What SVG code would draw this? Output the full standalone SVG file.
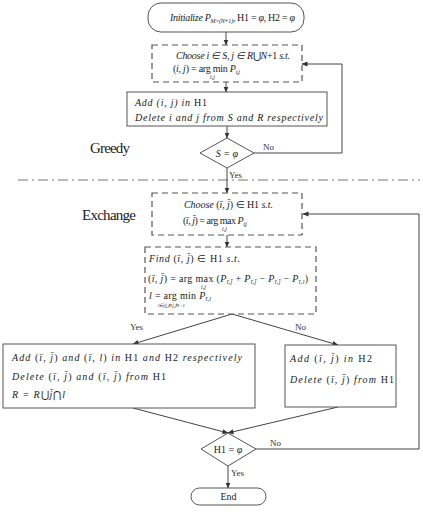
<svg xmlns="http://www.w3.org/2000/svg" width="423" height="514" viewBox="0 0 423 514">
<style>
.t{font-family:"Liberation Serif","Times New Roman",serif;font-size:10px;fill:#222}
.i{font-style:italic}
.s{font-size:6px}
.xs{font-size:5px}
.lbl{font-family:"Liberation Serif",serif;font-size:9px;fill:#333}
.big{font-family:"Liberation Serif",serif;font-size:15px;fill:#222}
.box{fill:#fff;stroke:#555;stroke-width:1}
.dash{fill:#fff;stroke:#555;stroke-width:1.2;stroke-dasharray:6 4}
.ln{fill:none;stroke:#444;stroke-width:1;marker-end:url(#ah)}
</style>
<defs>
<marker id="ah" markerWidth="6" markerHeight="6" refX="5.5" refY="3" orient="auto" markerUnits="userSpaceOnUse">
<path d="M0,0.5 L6,3 L0,5.5 Z" fill="#333"/>
</marker>
</defs>
<rect width="423" height="514" fill="#fff"/>

<line x1="18" y1="180" x2="420" y2="180" stroke="#777" stroke-width="1" stroke-dasharray="10 4 2 4"/>
<text class="big" x="90" y="153" textLength="40">Greedy</text>
<text class="big" x="82" y="220" textLength="54">Exchange</text>

<g id="connectors">
<path class="ln" d="M226,32 V45"/>
<path class="ln" d="M226,82 V92"/>
<path class="ln" d="M227,126 V138"/>
<path class="ln" d="M254,153 H342 V64 H302"/>
<path class="ln" d="M227,168 V193"/>
<path class="ln" d="M256,449 H419 V214 H303"/>
<path class="ln" d="M227,235 V247"/>
<path class="ln" d="M232,314 L133,344"/>
<path class="ln" d="M232,314 L338,345"/>
<path class="ln" d="M133,408 L228,433"/>
<path class="ln" d="M338,407 L228,433"/>
<path class="ln" d="M228,466 V488"/>
<text class="lbl" x="263" y="150">No</text>
<text class="lbl" x="229" y="178">Yes</text>
<text class="lbl" x="130" y="330">Yes</text>
<text class="lbl" x="295" y="330">No</text>
<text class="lbl" x="270" y="446">No</text>
<text class="lbl" x="231" y="476">Yes</text>
</g>

<g id="start">
<rect class="box" x="148" y="3" width="156" height="29" rx="13"/>
<text class="t" x="170" y="21" textLength="125"><tspan class="i">Initialize  P</tspan><tspan class="s i" dy="2">M×(N+1)</tspan><tspan dy="-2">, H1 = </tspan><tspan class="i">φ</tspan>, H2 = <tspan class="i">φ</tspan></text>
</g>

<g id="choose1">
<rect class="dash" x="152" y="45" width="150" height="37"/>
<text class="t i" x="176" y="59" textLength="114">Choose  i ∈ S, j ∈ R<tspan font-style="normal">⋃</tspan>N<tspan font-style="normal">+1</tspan>  s.t.</text>
<text class="t" x="173" y="72" textLength="67">(<tspan class="i">i</tspan>, <tspan class="i">j</tspan>) = arg min <tspan class="i">P</tspan><tspan class="s i" dy="2">i,j</tspan></text>
<text class="t s i" x="210" y="79">i,j</text>
</g>

<g id="add1">
<rect class="box" x="127" y="92" width="200" height="34"/>
<text class="t i" x="135" y="106" textLength="72">Add  (i, j)  in  <tspan font-style="normal">H1</tspan></text>
<text class="t i" x="135" y="121" textLength="188">Delete  i  and  j  from  S  and  R  respectively</text>
</g>

<g id="dec1">
<polygon class="box" points="227,138 254,153 227,168 200,153"/>
<text class="t i" x="227" y="156.5" text-anchor="middle">S = φ</text>
</g>

<g id="choose2">
<rect class="dash" x="152" y="193" width="150" height="42"/>
<text class="t" x="184" y="208" textLength="89"><tspan class="i">Choose</tspan>  (<tspan class="i">ī</tspan>, <tspan class="i">j̄</tspan>) ∈ H1  <tspan class="i">s.t.</tspan></text>
<text class="t" x="183" y="224" textLength="64">(<tspan class="i">ī</tspan>, <tspan class="i">j̄</tspan>) = arg max <tspan class="i">P</tspan><tspan class="s i" dy="2">i,j</tspan></text>
<text class="t s i" x="222" y="231">i,j</text>
</g>

<g id="find">
<rect class="dash" x="145" y="247" width="171" height="67"/>
<text class="t" x="149" y="262" textLength="91"><tspan class="i">Find</tspan>  (<tspan class="i">ī</tspan>, <tspan class="i">j̄</tspan>) ∈ H1  <tspan class="i">s.t.</tspan></text>
<text class="t" x="148" y="282" textLength="160">(<tspan class="i">ī</tspan>, <tspan class="i">j̄</tspan>) = arg max (<tspan class="i">P</tspan><tspan class="s i" dy="2">ī,j̄</tspan><tspan dy="-2"> + </tspan><tspan class="i">P</tspan><tspan class="s i" dy="2">ī,j̄</tspan><tspan dy="-2"> − </tspan><tspan class="i">P</tspan><tspan class="s i" dy="2">ī,j̄</tspan><tspan dy="-2"> − </tspan><tspan class="i">P</tspan><tspan class="s i" dy="2">ī,l</tspan><tspan dy="-2">)</tspan></text>
<text class="t s i" x="201" y="289">i,j</text>
<text class="t" x="149" y="299" textLength="62"><tspan class="i">l</tspan> = arg min <tspan class="i">P</tspan><tspan class="s i" dy="2">ī,l</tspan></text>
<text class="t xs i" x="158" y="307">l∈j̄⋃R⋃N+1</text>
</g>

<g id="add2">
<rect class="box" x="3" y="344" width="252" height="64"/>
<text class="t" x="12" y="361" textLength="230"><tspan class="i">Add</tspan>  (<tspan class="i">ī</tspan>, <tspan class="i">j̄</tspan>)  <tspan class="i">and</tspan>  (<tspan class="i">ī</tspan>, <tspan class="i">l</tspan>)  <tspan class="i">in</tspan>  H1  <tspan class="i">and</tspan>  H2  <tspan class="i">respectively</tspan></text>
<text class="t" x="12" y="380" textLength="154"><tspan class="i">Delete</tspan>  (<tspan class="i">ī</tspan>, <tspan class="i">j̄</tspan>)  <tspan class="i">and</tspan>  (<tspan class="i">ī</tspan>, <tspan class="i">j̄</tspan>)  <tspan class="i">from</tspan>  H1</text>
<text class="t i" x="12" y="398" textLength="53">R = R<tspan font-style="normal">⋃</tspan>j̄<tspan font-style="normal">⋂</tspan>l</text>
</g>

<g id="add3">
<rect class="box" x="285" y="345" width="111" height="62"/>
<text class="t" x="290" y="362" textLength="82"><tspan class="i">Add</tspan>  (<tspan class="i">ī</tspan>, <tspan class="i">j̄</tspan>)  <tspan class="i">in</tspan>  H2</text>
<text class="t" x="290" y="383" textLength="104"><tspan class="i">Delete</tspan>  (<tspan class="i">ī</tspan>, <tspan class="i">j̄</tspan>)  <tspan class="i">from</tspan>  H1</text>
</g>

<g id="dec2">
<polygon class="box" points="228,433 256,449 228,466 201,449"/>
<text class="t" x="228" y="452.5" text-anchor="middle">H1 = <tspan class="i">φ</tspan></text>
</g>

<g id="end">
<rect class="box" x="191" y="488" width="75" height="17" rx="8.5"/>
<text class="t" x="228.5" y="500" text-anchor="middle">End</text>
</g>
</svg>
